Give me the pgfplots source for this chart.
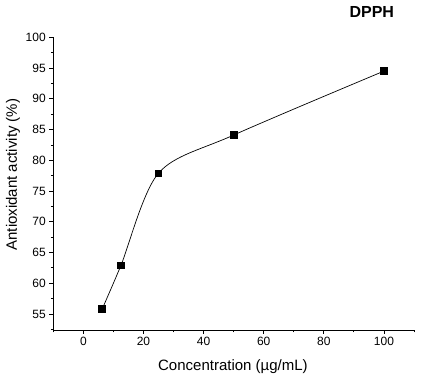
\documentclass[border=0pt]{standalone}
\usepackage{pgfplots}
\pgfplotsset{compat=1.18}
\usepackage{fontspec}
\setmainfont{Liberation Sans}
\begin{document}
\begin{tikzpicture}
\useasboundingbox (0pt,0pt) rectangle (423pt,387pt);
\begin{axis}[
  at={(53.3pt,57pt)}, anchor=south west,
  scale only axis, width=360.7pt, height=292.7pt,
  xmin=-10, xmax=110, ymin=52.4, ymax=100,
  axis x line*=bottom, axis y line*=left,
  axis line style={-, line width=0.8pt},
  xtick={-20,0,20,...,120}, ytick={50,55,...,100},
  minor tick num=1,
  tick align=outside, major tick length=4pt, minor tick length=2.5pt,
  tick style={black, line width=0.8pt},
  /pgf/number format/assume math mode=true,
  ticklabel style={font=\fontsize{12}{13}\selectfont},
  xlabel={Concentration (µg/mL)},
  ylabel={Antioxidant activity (\%)},
  label style={font=\fontsize{15}{17}\selectfont},
  xlabel style={at={(axis description cs:0.498,-0.1264)}, anchor=center},
  ylabel style={at={(axis description cs:-0.112,0.531)}, anchor=center},
  title={DPPH},
  title style={at={(rel axis cs:0.883,1.0676)}, anchor=center, font=\bfseries\fontsize{16}{18}\selectfont},
  clip=false,
]
\addplot[black, line width=0.7pt, smooth, mark=square*, mark size=3.3pt, mark options={solid, fill=black}]
  coordinates {(6.25,55.8) (12.5,62.9) (25,77.9) (50,84.1) (100,94.5)};
\end{axis}
\end{tikzpicture}
\end{document}
